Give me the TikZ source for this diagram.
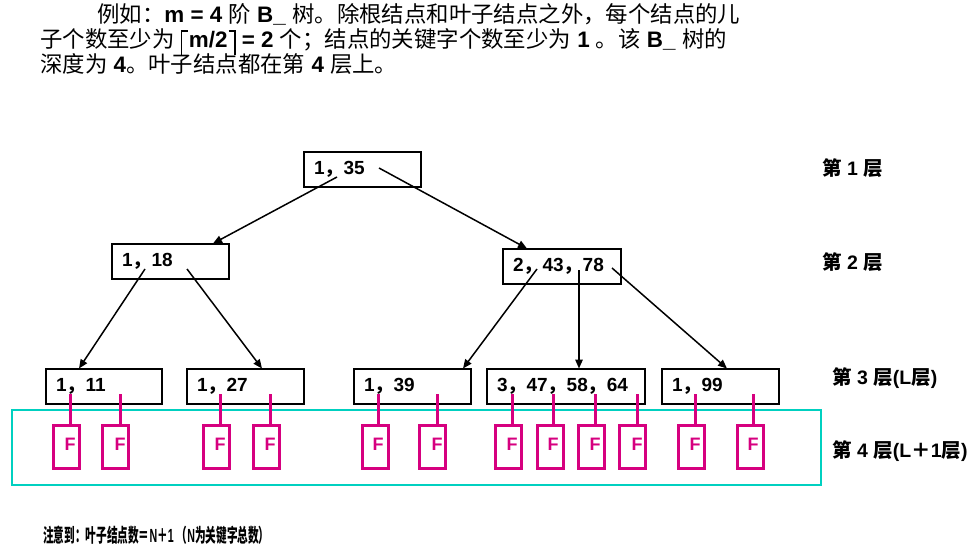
\documentclass[tikz,border=0pt]{standalone}
\usepackage{fontspec}
\setmainfont{Liberation Sans}
\newfontfamily\cjk{Noto Sans CJK SC}
\usetikzlibrary{arrows.meta}
\definecolor{fmag}{RGB}{214,0,127}
\definecolor{tcyan}{RGB}{0,208,192}
\newcommand\zh[1]{{\cjk #1}}
\newcommand\myceilL{\rule[-7.5pt]{1.4pt}{25pt}\kern-0.3pt\rule[16.1pt]{6pt}{1.4pt}\kern1pt}
\newcommand\myceilR{\kern1pt\rule[16.1pt]{6pt}{1.4pt}\kern-0.3pt\rule[-7.5pt]{1.4pt}{25pt}}
\begin{document}
\begin{tikzpicture}[x=1pt,y=-1pt,
  kbox/.style={draw, line width=2pt, minimum height=35pt, inner xsep=10pt, inner ysep=0pt, text width=#1, align=left, font=\fontsize{19}{21}\selectfont\bfseries},
  fleaf/.style={draw=fmag, line width=3pt, minimum width=26pt, minimum height=43pt, inner sep=0pt},
  ftxt/.style={text=fmag, font=\fontsize{18}{20}\selectfont\bfseries, inner sep=0pt},
  stub/.style={fmag, line width=3pt},
  arr/.style={line width=1.5pt, -{Triangle[length=9pt,width=7.5pt]}},
  lvl/.style={anchor=west, font=\fontsize{19.5}{21}\selectfont\bfseries, inner sep=0pt},
  para/.style={anchor=base west, inner sep=0pt, font=\fontsize{22.4}{24}\selectfont},
]
\useasboundingbox (0,0) rectangle (976,553);

% header text
\node[para] (t1) at (97,23) {\zh{例如：}\textbf{m = 4} \zh{阶} \textbf{B\_} \zh{树。除根结点和叶子结点之外，每个结点的儿}};
\node[para] (t2) at (40,48) {\zh{子个数至少为} \myceilL\textbf{m/2}\myceilR\ \textbf{= 2} \zh{个；结点的关键字个数至少为} \textbf{1} \zh{。该} \textbf{B\_} \zh{树的}};
\node[para] (t3) at (40,73) {\zh{深度为} \textbf{4}\zh{。叶子结点都在第} \textbf{4} \zh{层上。}};

% key nodes
\node[kbox=97pt] (root) at (362.5,169.5) {1\zh{，}35};
\node[kbox=97pt] (la) at (170.5,261.5) {1\zh{，}18};
\node[kbox=98pt] (lb) at (562,266.5) {2\zh{，}43\zh{，}78};
\node[kbox=96pt] (a) at (104,386.5) {1\zh{，}11};
\node[kbox=97pt] (b) at (245.5,386.5) {1\zh{，}27};
\node[kbox=97pt] (c) at (412.5,386.5) {1\zh{，}39};
\node[kbox=138pt] (d) at (566,386.5) {3\zh{，}47\zh{，}58\zh{，}64};
\node[kbox=97pt] (e) at (720.5,386.5) {1\zh{，}99};

% arrow start/end points
\coordinate (r1) at (337,177); \coordinate (r2) at (379,168);
\coordinate (a1) at (145,269); \coordinate (a2) at (187,269);
\coordinate (b1) at (537,269); \coordinate (b2) at (579,270); \coordinate (b3) at (612,268);
\draw[arr] (r1) -- (213,243.5) coordinate (laT);
\draw[arr] (r2) -- (527,248.5) coordinate (lbT);
\draw[arr] (a1) -- (79,368.5) coordinate (aT);
\draw[arr] (a2) -- (262,368.5) coordinate (bT);
\draw[arr] (b1) -- (463,368.5) coordinate (cT);
\draw[arr] (b2) -- (579,368.5) coordinate (dT);
\draw[arr] (b3) -- (727,368.5) coordinate (eT);

% leaf layer frame
\draw[tcyan, line width=2pt] (12,410) rectangle (821,485);

% F leaves
\foreach \n/\bx/\sx in {1/66/70, 2/115.5/120, 3/216/220, 4/266/270, 5/375/378, 6/432.5/437,
                        7/508/512, 8/550/553, 9/591/595, 10/632.5/637, 11/691/695, 12/750/753}{
  \node[fleaf] (f\n) at (\bx,447) {};
  \node[ftxt] (ft\n) at (\sx,444) {F};
  \coordinate (s\n) at (\sx,394);
  \draw[stub] (s\n) -- (s\n |- f\n.north);
}

% level labels
\node[lvl] (L1) at (822,168) {\zh{第} 1 \zh{层}};
\node[lvl] (L2) at (822,262) {\zh{第} 2 \zh{层}};
\node[lvl] (L3) at (832,378) {\zh{第} 3 \zh{层}(L\zh{层})};
\node[lvl] (L4) at (832,451) {\zh{第} 4 \zh{层}(L\zh{＋}1\zh{层})};

% note
\node[anchor=west, inner sep=0pt, font=\fontsize{19}{20}\selectfont\bfseries] (note) at (43,535)
  {\scalebox{0.56}[1]{\zh{注意到：叶子结点数＝}N\zh{＋}1 \zh{（}N\zh{为关键字总数）}}};
\end{tikzpicture}
\end{document}
